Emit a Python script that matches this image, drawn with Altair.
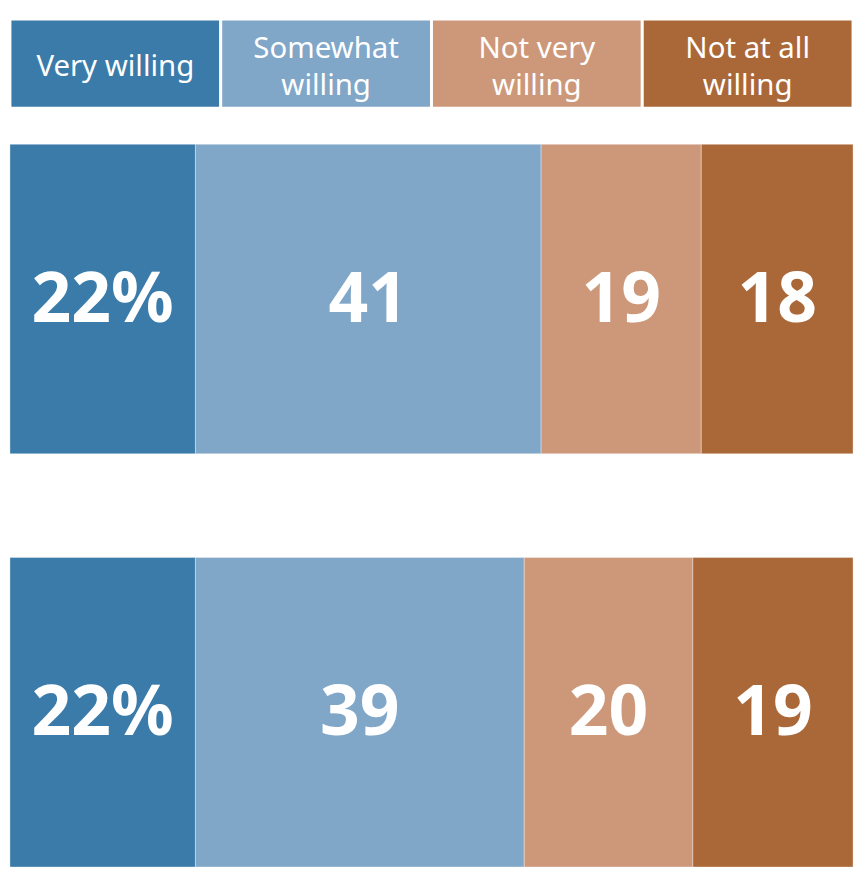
import altair as alt
import pandas as pd

categories = ["Very willing", "Somewhat willing", "Not very willing", "Not at all willing"]
header_line1 = ["Very willing", "Somewhat", "Not very", "Not at all"]
header_line2 = ["", "willing", "willing", "willing"]
colors = ["#3a7baa", "#80a6c8", "#cd9879", "#aa6839"]
rows = ["Row 1", "Row 2"]
row1_values = [22, 41, 19, 18]
row2_values = [22, 39, 20, 19]
row1_labels = ["22%", "41", "19", "18"]
row2_labels = ["22%", "39", "20", "19"]

FONT = "Noto Sans"
W = 861
HH = 91

# header (legend) boxes
hdr = pd.DataFrame({
    "cat": categories,
    "line1": header_line1,
    "line2": header_line2,
    "start": list(range(len(categories))),
    "end": [i + 1 for i in range(len(categories))],
    "band": ["h"] * len(categories),
})
hdr["mid"] = (hdr["start"] + hdr["end"]) / 2
hdr["two"] = hdr["line2"] != ""

color_scale = alt.Scale(domain=categories, range=colors)
hx = alt.Scale(domain=[0, len(categories)], nice=False, zero=False)
hy = alt.Scale(domain=["h"], paddingInner=0, paddingOuter=0)

header_boxes = alt.Chart(hdr).mark_bar(stroke="white", strokeWidth=3).encode(
    x=alt.X("start:Q", scale=hx, axis=None),
    x2="end:Q",
    y=alt.Y("band:N", scale=hy, axis=None),
    color=alt.Color("cat:N", scale=color_scale, legend=None),
)
txt_kw = dict(font=FONT, fontSize=30, color="white", baseline="alphabetic", align="center")
single = alt.Chart(hdr).transform_filter("!datum.two").mark_text(dy=13, **txt_kw).encode(
    x=alt.X("mid:Q", scale=hx, axis=None),
    y=alt.Y("band:N", scale=hy, axis=None),
    text="line1:N",
)
top_line = alt.Chart(hdr).transform_filter("datum.two").mark_text(dy=-6, **txt_kw).encode(
    x=alt.X("mid:Q", scale=hx, axis=None),
    y=alt.Y("band:N", scale=hy, axis=None),
    text="line1:N",
)
bottom_line = alt.Chart(hdr).transform_filter("datum.two").mark_text(dy=32, **txt_kw).encode(
    x=alt.X("mid:Q", scale=hx, axis=None),
    y=alt.Y("band:N", scale=hy, axis=None),
    text="line2:N",
)
header = alt.layer(header_boxes, single, top_line, bottom_line).properties(width=W, height=HH)

# bars
recs = []
for r, vals, labs in [(rows[0], row1_values, row1_labels), (rows[1], row2_values, row2_labels)]:
    s = 0
    for c, v, l in zip(categories, vals, labs):
        recs.append({"row": r, "cat": c, "start": s, "end": s + v, "mid": s + v / 2, "label": l})
        s += v
df = pd.DataFrame(recs)

bx = alt.Scale(domain=[0, 100], nice=False, zero=False)
by = alt.Scale(domain=rows, paddingInner=0.2512, paddingOuter=0)

bars = alt.Chart(df).mark_bar(stroke="white", strokeWidth=1, strokeOpacity=0.35).encode(
    x=alt.X("start:Q", scale=bx, axis=None),
    x2="end:Q",
    y=alt.Y("row:N", scale=by, axis=None),
    color=alt.Color("cat:N", scale=color_scale, legend=None),
)
nums = alt.Chart(df).mark_text(
    font=FONT, fontSize=71, fontWeight="bold", color="white", baseline="middle", align="center", dy=2
).encode(
    x=alt.X("mid:Q", scale=bx, axis=None),
    y=alt.Y("row:N", scale=by, axis=None),
    text="label:N",
)
body = alt.layer(bars, nums).properties(width=W, height=738)

chart = alt.vconcat(header, body, spacing=34).resolve_scale(x="independent", y="independent").properties(
    padding=0
).configure_view(stroke=None)

chart.save("out.html", embed_options={"renderer": "svg", "actions": False})
